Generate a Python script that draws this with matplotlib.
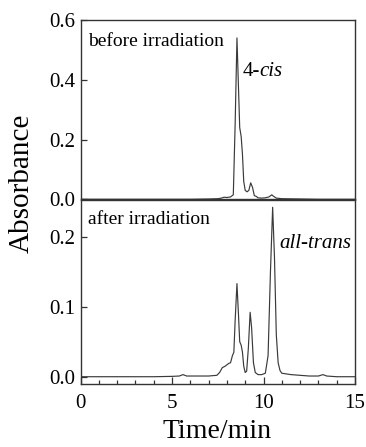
import matplotlib
matplotlib.use("Agg")
import matplotlib.pyplot as plt
from matplotlib.ticker import MultipleLocator

plt.rcParams['font.family'] = ['Liberation Serif', 'DejaVu Serif']

# before irradiation (time in min, absorbance)
before_t = [0, 1, 2, 3, 4, 5, 6, 7, 7.5, 7.7, 7.85, 8.0, 8.2, 8.35, 8.45, 8.55,
            8.62, 8.7, 8.78, 8.85, 8.92, 9.0, 9.1, 9.2, 9.3, 9.4, 9.5, 9.6,
            9.7, 9.9, 10.1, 10.3, 10.45, 10.55, 10.7, 11, 12, 13, 14, 15]
before_a = [0, 0, 0, 0, 0, 0, 0, 0.001, 0.002, 0.004, 0.007, 0.006, 0.008, 0.015,
            0.25, 0.54, 0.40, 0.24, 0.21, 0.15, 0.06, 0.03, 0.025, 0.03, 0.055,
            0.04, 0.012, 0.01, 0.005, 0.004, 0.005, 0.008, 0.015, 0.01, 0.004,
            0.002, 0.001, 0, 0, 0]

# after irradiation
after_t = [0, 1, 2, 3, 4, 5, 5.4, 5.6, 5.8, 6.5, 7.0, 7.45, 7.6, 7.75, 7.9, 8.1,
           8.2, 8.3, 8.38, 8.45, 8.55, 8.63, 8.7, 8.78, 8.85, 8.92, 9.0, 9.08,
           9.17, 9.27, 9.35, 9.45, 9.55, 9.7, 9.9, 10.1, 10.25, 10.38, 10.5,
           10.6, 10.7, 10.8, 10.9, 11.0, 11.5, 12, 12.5, 13.0, 13.25, 13.45, 14, 15]
after_a = [0, 0, 0, 0, 0, 0.0005, 0.001, 0.003, 0.001, 0.001, 0.001, 0.002, 0.006,
           0.013, 0.015, 0.019, 0.02, 0.03, 0.035, 0.08, 0.133, 0.09, 0.05, 0.045,
           0.035, 0.015, 0.006, 0.008, 0.04, 0.092, 0.07, 0.02, 0.006, 0.003,
           0.003, 0.005, 0.03, 0.15, 0.242, 0.17, 0.06, 0.02, 0.009, 0.005,
           0.003, 0.002, 0.001, 0.001, 0.003, 0.001, 0, 0]

top_yticks = [0.0, 0.2, 0.4, 0.6]
bot_yticks = [0.0, 0.1, 0.2]
xticks = [0, 5, 10, 15]

fig = plt.figure(figsize=(3.66, 4.47), dpi=100)
L, W = 80.5 / 366, (355 - 80.5) / 366
ax1 = fig.add_axes([L, 1 - 199.3 / 447, W, (199.3 - 20) / 447])
ax2 = fig.add_axes([L, 1 - 384 / 447, W, (384 - 200) / 447])

lc = '#3a3a3a'
ax1.plot(before_t, before_a, color=lc, lw=0.85)
ax2.plot(after_t, after_a, color=lc, lw=0.85)

for ax in (ax1, ax2):
    ax.set_xlim(0, 15)
    for s in ax.spines.values():
        s.set_linewidth(1.0)
        s.set_color('#333333')
    ax.tick_params(direction='in', labelsize=15, width=0.9, color='#333333')

ax1.set_ylim(0, 0.6)
ax1.set_yticks(top_yticks)
ax1.set_yticklabels([f"{v:.1f}" for v in top_yticks])
ax1.tick_params(axis='y', length=4, pad=4)
ax1.set_xticks([])

ax2.set_ylim(-0.0104, 0.2524)
ax2.set_yticks(bot_yticks)
ax2.set_yticklabels([f"{v:.1f}" for v in bot_yticks])
ax2.tick_params(axis='y', length=4, pad=4)
ax2.set_xticks(xticks)
ax2.xaxis.set_minor_locator(MultipleLocator(1))
ax2.tick_params(axis='x', which='major', length=5, pad=7)
ax2.tick_params(axis='x', which='minor', length=3, direction='in', width=0.9, color='#333333')

fig.text(88 / 366, 1 - 45.7 / 447, 'before irradiation', fontsize=14, ha='left', va='baseline')
fig.text(88 / 366, 1 - 224 / 447, 'after irradiation', fontsize=14, ha='left', va='baseline')
t4 = fig.text(243 / 366, 1 - 76 / 447, '4-', fontsize=15, ha='left', va='baseline')
fig.canvas.draw()
bb = t4.get_window_extent(renderer=fig.canvas.get_renderer())
fig.text((bb.x1 - 1.5) / fig.bbox.width, 1 - 76 / 447, 'cis', fontsize=15, style='italic',
         ha='left', va='baseline')
fig.text(279 / 366, 1 - 248 / 447, 'all-trans', fontsize=15, style='italic', ha='left', va='baseline')

fig.text(22 / 366, 1 - 183 / 447, 'Absorbance', fontsize=21, rotation=90, ha='center', va='center')
fig.text(217.4 / 366, 1 - 432 / 447, 'Time/min', fontsize=20, ha='center', va='center')

fig.savefig('out.png', dpi=100)
